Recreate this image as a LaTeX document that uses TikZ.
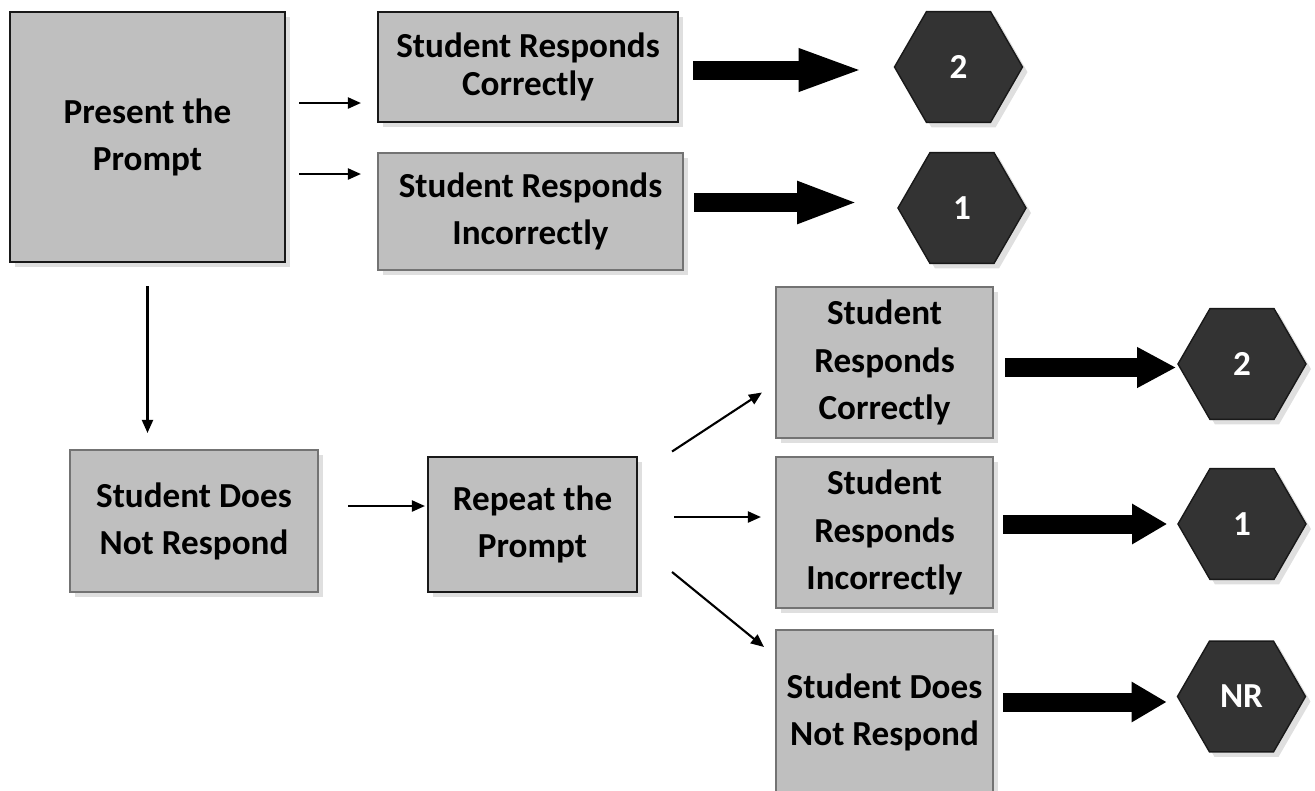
\documentclass[tikz,border=0pt]{standalone}
\usepackage{fontspec}
\setmainfont{Carlito}
\usetikzlibrary{arrows.meta,shapes.geometric,shadows}

\begin{document}
\begin{tikzpicture}[
    font=\bfseries\fontsize{10}{13.4}\selectfont,
    box/.style={draw=black!55,line width=0.6pt,fill=black!25,align=center,inner sep=0pt,
      drop shadow={shadow xshift=0.5mm,shadow yshift=-0.5mm,opacity=0.25}},
    darkbox/.style={draw=black!90},
    hex/.style={regular polygon,regular polygon sides=6,minimum size=1.28cm,inner sep=0pt,
      fill=black!80,draw=black!90,text=white,
      drop shadow={shadow xshift=0.5mm,shadow yshift=-0.5mm,opacity=0.25}},
    link/.style={line width=0.6pt,-{Triangle[length=1.3mm,width=1.1mm]}},
    fat/.style={line width=1.9mm,-{Triangle[length=#1,width=3.8mm]}},
  ]
  \useasboundingbox (0,0) rectangle (13.15,-7.9);

  \node[box,darkbox,minimum width=2.75cm,minimum height=2.5cm] (present) at (1.475,-1.37) {Present the\\Prompt};
  \node[box,darkbox,minimum width=3cm,minimum height=1.1cm,
    font=\bfseries\fontsize{10}{10.6}\selectfont] (rc1) at (5.28,-0.67) {Student Responds\\Correctly};
  \node[box,minimum width=3.05cm,minimum height=1.17cm] (ri1) at (5.305,-2.115) {Student Responds\\Incorrectly};
  \node[box,minimum width=2.48cm,minimum height=1.42cm] (nr1) at (1.94,-5.21) {Student Does\\Not Respond};
  \node[box,darkbox,minimum width=2.09cm,minimum height=1.35cm] (repeat) at (5.325,-5.245) {Repeat the\\Prompt};
  \node[box,minimum width=2.17cm,minimum height=1.51cm] (rc2) at (8.845,-3.625) {Student\\Responds\\Correctly};
  \node[box,minimum width=2.17cm,minimum height=1.51cm] (ri2) at (8.845,-5.325) {Student\\Responds\\Incorrectly};
  \node[box,minimum width=2.17cm,minimum height=1.64cm] (nr2) at (8.845,-7.12) {Student Does\\Not Respond};

  \foreach \n/\x/\y/\t in {h1/9.585/-0.67/2,h2/9.62/-2.08/1,h3/12.42/-3.64/2,h4/12.42/-5.24/1,h5/12.415/-6.965/NR} {
    \node[hex] (\n) at (\x,\y) {\t};
  }

  \coordinate (a1) at ([yshift=3.4mm]present.east);
  \coordinate (a2) at ([yshift=-3.7mm]present.east);
  \coordinate (a3) at ([yshift=1.5mm]nr1.east);
  \coordinate (b2) at ([yshift=0.75mm]repeat.east);
  \draw[link,shorten <=1.3mm,shorten >=1.6mm] (a1) -- (a1 -| rc1.west);
  \draw[link,shorten <=1.3mm,shorten >=1.6mm] (a2) -- (a2 -| ri1.west);
  \draw[link,shorten <=2.3mm,shorten >=1.6mm] (present.south) -- (present.south |- nr1.north);
  \draw[link,shorten <=2.9mm,shorten >=0.2mm] (a3) -- (a3 -| repeat.west);
  \draw[link] ([shift={(3.4mm,7.3mm)}]repeat.east) -- ([shift={(-1.3mm,-3mm)}]rc2.west);
  \draw[link,shorten <=3.6mm,shorten >=1.4mm] (b2) -- (b2 -| ri2.west);
  \draw[link] ([shift={(3.4mm,-4.75mm)}]repeat.east) -- ([shift={(-1.1mm,6.5mm)}]nr2.west);

  \coordinate (c1) at ([yshift=-0.3mm]rc1.east);
  \coordinate (c2) at ([yshift=0.9mm]ri1.east);
  \coordinate (c3) at ([yshift=-0.5mm]rc2.east);
  \coordinate (c4) at ([yshift=0.85mm]ri2.east);
  \coordinate (c5) at ([yshift=1mm]nr2.east);
  \draw[fat=6.6mm,shorten <=1.4mm,shorten >=2.9mm] (c1) -- (c1 -| h1.west);
  \draw[fat=6.2mm,shorten <=1mm,shorten >=3.8mm] (c2) -- (c2 -| h2.west);
  \draw[fat=3.9mm,shorten <=1.1mm,shorten >=0.1mm] (c3) -- (c3 -| h3.west);
  \draw[fat=3.5mm,shorten <=0.9mm,shorten >=1mm] (c4) -- (c4 -| h4.west);
  \draw[fat=3.5mm,shorten <=0.9mm,shorten >=1mm] (c5) -- (c5 -| h5.west);
\end{tikzpicture}
\end{document}
